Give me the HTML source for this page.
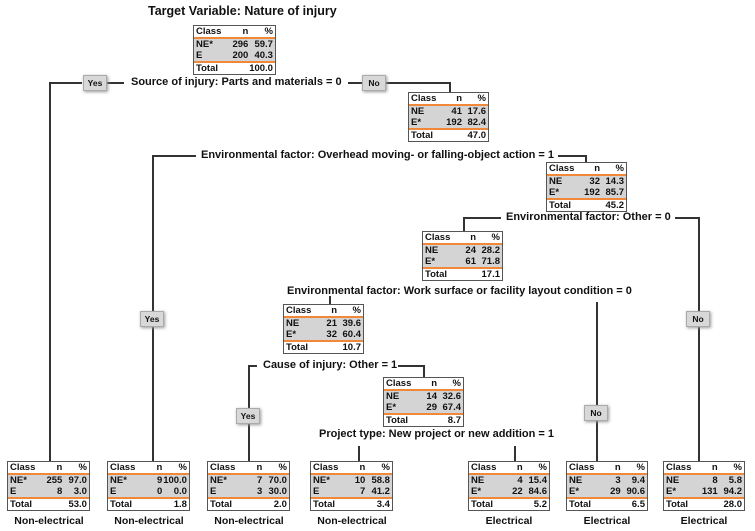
<!DOCTYPE html>
<html><head><meta charset="utf-8"><style>
body{margin:0;width:755px;height:531px;background:#fff;position:relative;overflow:hidden;font-family:"Liberation Sans",Arial,sans-serif;font-weight:bold;color:#111}
.n{position:absolute;border:1.5px solid #555;background:#fff;box-sizing:border-box;font-size:9.5px;line-height:11px}
.n .r{display:grid;grid-template-columns:44% 24% 32%;padding:0 2px;height:11px;align-items:center}
.n .r span{text-align:right}
.n .r span:first-child{text-align:left}
.n .g{background:#d4d4d4}
.n .h{border-bottom:2px solid #f0883a}
.n .t{border-top:2px solid #f0883a}
.l{position:absolute;font-size:11px;white-space:nowrap;line-height:12px}
.v{position:absolute;background:#333;width:1.5px}
.hz{position:absolute;background:#333;height:1.5px}
.b{position:absolute;width:22px;height:14px;background:#d8d8d8;border:1px solid #aaa;box-shadow:1px 1px 3px #999;font-size:8.5px;text-align:center;line-height:14px}
.lab{position:absolute;font-size:10.5px;text-align:center;width:100px}
</style></head><body>
<div class="l" style="left:148px;top:5px;font-size:12.5px">Target Variable: Nature of injury</div>

<div class="hz" style="left:49px;top:82px;width:33px"></div>
<div class="v" style="left:49px;top:82px;height:379px"></div>
<div class="hz" style="left:106px;top:82px;width:18px"></div>
<div class="hz" style="left:348px;top:82px;width:14px"></div>
<div class="hz" style="left:386px;top:82px;width:63px"></div>
<div class="v" style="left:449px;top:82px;height:10px"></div>

<div class="hz" style="left:152px;top:155px;width:44px"></div>
<div class="v" style="left:152px;top:155px;height:306px"></div>
<div class="hz" style="left:558px;top:155px;width:27px"></div>
<div class="v" style="left:585px;top:155px;height:7px"></div>

<div class="hz" style="left:463px;top:217px;width:38px"></div>
<div class="v" style="left:463px;top:217px;height:14px"></div>
<div class="hz" style="left:675px;top:217px;width:23px"></div>
<div class="v" style="left:698px;top:217px;height:244px"></div>

<div class="v" style="left:329px;top:296px;height:8px"></div>
<div class="v" style="left:596px;top:302px;height:159px"></div>

<div class="hz" style="left:248px;top:365px;width:9px"></div>
<div class="v" style="left:248px;top:365px;height:96px"></div>
<div class="hz" style="left:398px;top:365px;width:25px"></div>
<div class="v" style="left:423px;top:365px;height:12px"></div>

<div class="v" style="left:358px;top:446px;height:15px"></div>
<div class="v" style="left:514px;top:446px;height:15px"></div>

<div class="l" style="left:131px;top:76px">Source of injury: Parts and materials = 0</div>
<div class="l" style="left:201px;top:149px">Environmental factor: Overhead moving- or falling-object action = 1</div>
<div class="l" style="left:506px;top:211px">Environmental factor: Other = 0</div>
<div class="l" style="left:287px;top:285px">Environmental factor: Work surface or facility layout condition = 0</div>
<div class="l" style="left:263px;top:359px">Cause of injury: Other = 1</div>
<div class="l" style="left:319px;top:428px">Project type: New project or new addition = 1</div>

<div class="b" style="left:83px;top:75px">Yes</div>
<div class="b" style="left:362px;top:75px">No</div>
<div class="b" style="left:140px;top:311px">Yes</div>
<div class="b" style="left:686px;top:311px">No</div>
<div class="b" style="left:236px;top:408px">Yes</div>
<div class="b" style="left:584px;top:405px">No</div>

<div class="n" style="left:193px;top:25px;width:83px"><div class="r h"><span>Class</span><span>n</span><span>%</span></div><div class="r g"><span>NE*</span><span>296</span><span>59.7</span></div><div class="r g"><span>E</span><span>200</span><span>40.3</span></div><div class="r t"><span>Total</span><span></span><span>100.0</span></div></div>
<div class="n" style="left:408px;top:92px;width:81px"><div class="r h"><span>Class</span><span>n</span><span>%</span></div><div class="r g"><span>NE</span><span>41</span><span>17.6</span></div><div class="r g"><span>E*</span><span>192</span><span>82.4</span></div><div class="r t"><span>Total</span><span></span><span>47.0</span></div></div>
<div class="n" style="left:546px;top:162px;width:81px"><div class="r h"><span>Class</span><span>n</span><span>%</span></div><div class="r g"><span>NE</span><span>32</span><span>14.3</span></div><div class="r g"><span>E*</span><span>192</span><span>85.7</span></div><div class="r t"><span>Total</span><span></span><span>45.2</span></div></div>
<div class="n" style="left:422px;top:231px;width:81px"><div class="r h"><span>Class</span><span>n</span><span>%</span></div><div class="r g"><span>NE</span><span>24</span><span>28.2</span></div><div class="r g"><span>E*</span><span>61</span><span>71.8</span></div><div class="r t"><span>Total</span><span></span><span>17.1</span></div></div>
<div class="n" style="left:283px;top:304px;width:81px"><div class="r h"><span>Class</span><span>n</span><span>%</span></div><div class="r g"><span>NE</span><span>21</span><span>39.6</span></div><div class="r g"><span>E*</span><span>32</span><span>60.4</span></div><div class="r t"><span>Total</span><span></span><span>10.7</span></div></div>
<div class="n" style="left:383px;top:377px;width:81px"><div class="r h"><span>Class</span><span>n</span><span>%</span></div><div class="r g"><span>NE</span><span>14</span><span>32.6</span></div><div class="r g"><span>E*</span><span>29</span><span>67.4</span></div><div class="r t"><span>Total</span><span></span><span>8.7</span></div></div>

<div class="n" style="left:7px;top:461px;width:83px"><div class="r h"><span>Class</span><span>n</span><span>%</span></div><div class="r g"><span>NE*</span><span>255</span><span>97.0</span></div><div class="r g"><span>E</span><span>8</span><span>3.0</span></div><div class="r t"><span>Total</span><span></span><span>53.0</span></div></div>
<div class="n" style="left:107px;top:461px;width:83px"><div class="r h"><span>Class</span><span>n</span><span>%</span></div><div class="r g"><span>NE*</span><span>9</span><span>100.0</span></div><div class="r g"><span>E</span><span>0</span><span>0.0</span></div><div class="r t"><span>Total</span><span></span><span>1.8</span></div></div>
<div class="n" style="left:207px;top:461px;width:83px"><div class="r h"><span>Class</span><span>n</span><span>%</span></div><div class="r g"><span>NE*</span><span>7</span><span>70.0</span></div><div class="r g"><span>E</span><span>3</span><span>30.0</span></div><div class="r t"><span>Total</span><span></span><span>2.0</span></div></div>
<div class="n" style="left:310px;top:461px;width:83px"><div class="r h"><span>Class</span><span>n</span><span>%</span></div><div class="r g"><span>NE*</span><span>10</span><span>58.8</span></div><div class="r g"><span>E</span><span>7</span><span>41.2</span></div><div class="r t"><span>Total</span><span></span><span>3.4</span></div></div>
<div class="n" style="left:468px;top:461px;width:82px"><div class="r h"><span>Class</span><span>n</span><span>%</span></div><div class="r g"><span>NE</span><span>4</span><span>15.4</span></div><div class="r g"><span>E*</span><span>22</span><span>84.6</span></div><div class="r t"><span>Total</span><span></span><span>5.2</span></div></div>
<div class="n" style="left:566px;top:461px;width:82px"><div class="r h"><span>Class</span><span>n</span><span>%</span></div><div class="r g"><span>NE</span><span>3</span><span>9.4</span></div><div class="r g"><span>E*</span><span>29</span><span>90.6</span></div><div class="r t"><span>Total</span><span></span><span>6.5</span></div></div>
<div class="n" style="left:663px;top:461px;width:82px"><div class="r h"><span>Class</span><span>n</span><span>%</span></div><div class="r g"><span>NE</span><span>8</span><span>5.8</span></div><div class="r g"><span>E*</span><span>131</span><span>94.2</span></div><div class="r t"><span>Total</span><span></span><span>28.0</span></div></div>

<div class="lab" style="left:-1px;top:515px">Non-electrical</div>
<div class="lab" style="left:99px;top:515px">Non-electrical</div>
<div class="lab" style="left:199px;top:515px">Non-electrical</div>
<div class="lab" style="left:302px;top:515px">Non-electrical</div>
<div class="lab" style="left:459px;top:515px">Electrical</div>
<div class="lab" style="left:557px;top:515px">Electrical</div>
<div class="lab" style="left:654px;top:515px">Electrical</div>
</body></html>
